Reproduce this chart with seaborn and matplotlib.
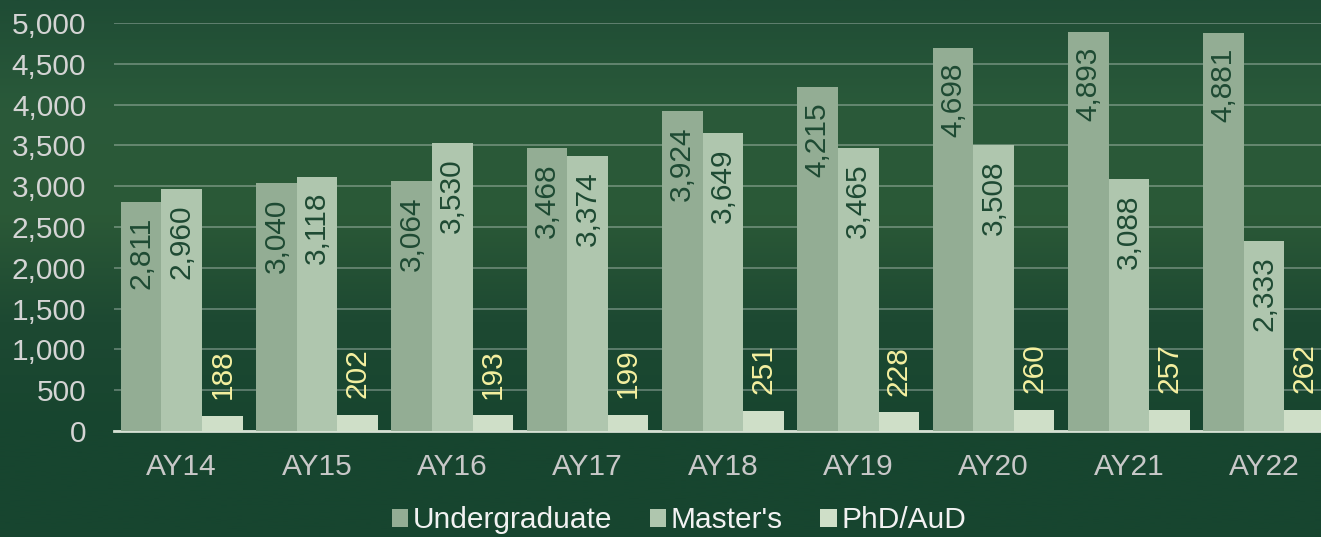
import numpy as np
import pandas as pd
import matplotlib
matplotlib.use("Agg")
import matplotlib.pyplot as plt
from matplotlib.colors import LinearSegmentedColormap
from matplotlib.patches import Patch
import seaborn as sns

years = ["AY14", "AY15", "AY16", "AY17", "AY18", "AY19", "AY20", "AY21", "AY22"]
levels = ["Undergraduate", "Master's", "PhD/AuD"]
undergrad = [2811, 3040, 3064, 3468, 3924, 4215, 4698, 4893, 4881]
masters = [2960, 3118, 3530, 3374, 3649, 3465, 3508, 3088, 2333]
phd = [188, 202, 193, 199, 251, 228, 260, 257, 262]
bar_colors = ["#93ad94", "#afc6ae", "#cfdfc8"]
label_colors = ["#1e4a33", "#1e4a33", "#f5f0a0"]

df = pd.DataFrame({
    "year": years * 3,
    "level": [levels[0]] * 9 + [levels[1]] * 9 + [levels[2]] * 9,
    "count": undergrad + masters + phd,
})

sns.set_theme(style="white")
plt.rcParams["font.family"] = ["Liberation Sans", "DejaVu Sans"]

fig = plt.figure(figsize=(13.21, 5.37), dpi=100)

# background gradient
bg = fig.add_axes([0, 0, 1, 1], zorder=-10)
cmap = LinearSegmentedColormap.from_list(
    "bg", ["#1f4c35", "#2a5a3a", "#2b5937", "#1d4932", "#17452f", "#17452f"])
grad = np.linspace(0, 1, 256).reshape(-1, 1)
bg.imshow(grad, aspect="auto", cmap=cmap, extent=[0, 1, 0, 1], origin="upper")
bg.axis("off")

ax = fig.add_axes([114 / 1321, 106 / 537, 1 - 114 / 1321, 408 / 537])
ax.set_facecolor("none")

sns.barplot(data=df, x="year", y="count", hue="level", palette=bar_colors,
            width=0.9, saturation=1, ax=ax, legend=False, zorder=3,
            linewidth=0, edgecolor="none")

ax.set_xlim(-0.5, 8.42)
ax.set_ylim(0, 5000)
ax.set_yticks(range(0, 5001, 500))
ax.set_yticklabels([f"{v:,}" for v in range(0, 5001, 500)])
ax.yaxis.grid(True, color="#ffffff", alpha=0.3, lw=1.3, zorder=0)
ax.set_axisbelow(True)
ax.set_xlabel("")
ax.set_ylabel("")
for s in ["top", "right", "left"]:
    ax.spines[s].set_visible(False)
ax.spines["bottom"].set_color("#d5e0d3")
ax.spines["bottom"].set_linewidth(2)
ax.tick_params(axis="y", colors="#d4d4d4", labelsize=21.5, length=0, pad=20)
ax.tick_params(axis="x", colors="#c8c8c8", labelsize=21.5, length=0, pad=16)

for i, cont in enumerate(ax.containers):
    vals = [undergrad, masters, phd][i]
    for bar, v in zip(cont, vals):
        x = bar.get_x() + bar.get_width() / 2
        if i < 2:
            ax.annotate(f"{v:,}", (x, bar.get_height()), xytext=(0, -11),
                        textcoords="offset points", rotation=90, ha="center",
                        va="top", fontsize=21.5, color=label_colors[i], zorder=5)
        else:
            ax.annotate(f"{v:,}", (x, bar.get_height()), xytext=(0, 12),
                        textcoords="offset points", rotation=90, ha="center",
                        va="bottom", fontsize=21.5, color=label_colors[i], zorder=5)

handles = [Patch(facecolor=c, edgecolor="none") for c in bar_colors]
fig.legend(handles, levels, loc="lower center", bbox_to_anchor=(0.514, -0.045), ncol=3,
           frameon=False, fontsize=21.5, labelcolor="#f2f2f2", handlelength=0.55,
           handleheight=0.55, handletextpad=0.15, columnspacing=1.25)

fig.savefig("out.png", dpi=100)
